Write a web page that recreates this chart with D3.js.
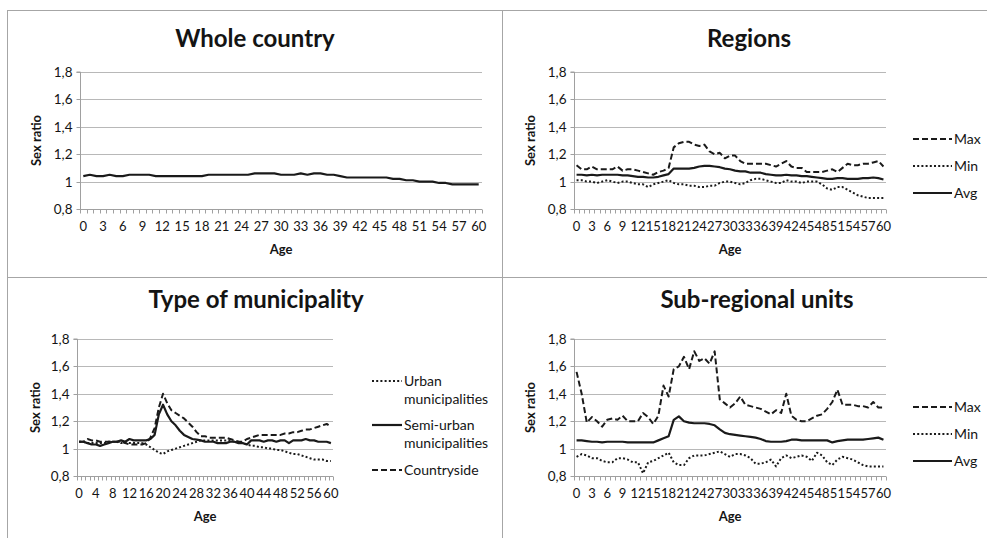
<!DOCTYPE html>
<html><head><meta charset="utf-8">
<script src="https://cdn.jsdelivr.net/npm/d3@7"></script>
<style>
html,body{margin:0;padding:0;background:#fff;}
svg{display:block;font-family:Lato,"Open Sans",sans-serif;}
</style></head>
<body>
<svg id="c" width="987" height="538"></svg>
<script>
const ages = d3.range(0, 61);
const yTicks = [0.8, 1.0, 1.2, 1.4, 1.6, 1.8];

const wholeCountry = [1.04,1.05,1.04,1.04,1.05,1.04,1.04,1.05,1.05,1.05,
1.05,1.04,1.04,1.04,1.04,1.04,1.04,1.04,1.04,1.05,
1.05,1.05,1.05,1.05,1.05,1.05,1.06,1.06,1.06,1.06,
1.05,1.05,1.05,1.06,1.05,1.06,1.06,1.05,1.05,1.04,
1.03,1.03,1.03,1.03,1.03,1.03,1.03,1.02,1.02,1.01,
1.01,1.00,1.00,1.00,0.99,0.99,0.98,0.98,0.98,0.98,0.98];

const regionsMax = [1.12,1.09,1.09,1.11,1.09,1.09,1.09,1.09,1.11,1.08,
1.09,1.09,1.08,1.07,1.06,1.05,1.07,1.08,1.10,1.25,
1.28,1.29,1.29,1.27,1.26,1.27,1.22,1.20,1.21,1.17,
1.19,1.19,1.15,1.13,1.13,1.13,1.13,1.13,1.12,1.11,
1.13,1.15,1.11,1.10,1.10,1.07,1.07,1.07,1.07,1.08,
1.09,1.07,1.10,1.13,1.12,1.12,1.13,1.13,1.14,1.15,1.11];
const regionsMin = [1.01,1.01,1.00,1.00,0.99,1.00,1.01,1.00,0.99,1.00,
1.00,0.99,0.98,0.98,0.96,0.98,0.99,1.00,1.01,0.99,
0.98,0.98,0.97,0.97,0.96,0.96,0.97,0.97,0.99,1.00,
1.00,0.99,0.98,0.99,1.01,1.02,1.02,1.01,1.00,0.99,
0.99,1.01,1.00,1.00,0.99,1.00,1.00,1.00,0.98,0.95,
0.94,0.96,0.96,0.94,0.92,0.90,0.89,0.88,0.88,0.88,0.88];
const regionsAvg = [1.05,1.05,1.045,1.05,1.045,1.05,1.05,1.05,1.05,1.045,
1.045,1.04,1.035,1.035,1.03,1.03,1.035,1.045,1.055,1.095,
1.095,1.095,1.095,1.10,1.11,1.115,1.115,1.11,1.105,1.095,
1.09,1.08,1.075,1.075,1.065,1.065,1.065,1.055,1.05,1.045,
1.045,1.05,1.045,1.045,1.04,1.04,1.035,1.03,1.025,1.02,
1.02,1.025,1.025,1.02,1.02,1.02,1.025,1.025,1.03,1.025,1.015];

const urban = [1.05,1.05,1.04,1.04,1.04,1.04,1.04,1.05,1.05,1.05,
1.04,1.04,1.04,1.04,1.04,1.04,1.03,1.01,0.99,0.97,
0.96,0.98,0.99,1.00,1.01,1.02,1.03,1.04,1.05,1.06,
1.06,1.06,1.06,1.06,1.06,1.06,1.06,1.05,1.05,1.04,
1.03,1.02,1.02,1.01,1.01,1.00,1.00,0.99,0.99,0.98,
0.97,0.96,0.96,0.95,0.94,0.93,0.92,0.92,0.92,0.91,0.91];
const semiUrban = [1.05,1.05,1.04,1.03,1.03,1.02,1.03,1.04,1.05,1.05,
1.06,1.05,1.07,1.06,1.06,1.06,1.06,1.07,1.10,1.25,
1.32,1.25,1.20,1.17,1.13,1.10,1.085,1.07,1.065,1.06,
1.05,1.05,1.05,1.04,1.04,1.04,1.05,1.05,1.04,1.04,
1.03,1.06,1.06,1.06,1.05,1.06,1.06,1.05,1.06,1.06,
1.04,1.06,1.06,1.06,1.07,1.06,1.06,1.05,1.05,1.05,1.04];
const countryside = [1.05,1.05,1.07,1.06,1.06,1.05,1.05,1.05,1.05,1.05,
1.05,1.04,1.03,1.03,1.03,1.03,1.04,1.08,1.15,1.30,
1.40,1.33,1.28,1.26,1.24,1.22,1.19,1.16,1.12,1.09,
1.09,1.08,1.08,1.08,1.08,1.08,1.07,1.06,1.05,1.05,
1.07,1.08,1.09,1.10,1.10,1.10,1.10,1.10,1.10,1.11,
1.11,1.12,1.12,1.13,1.14,1.14,1.15,1.16,1.17,1.18,1.16];

const subMax = [1.56,1.40,1.19,1.23,1.20,1.16,1.21,1.22,1.21,1.24,
1.20,1.20,1.20,1.26,1.23,1.18,1.24,1.46,1.38,1.58,
1.60,1.67,1.58,1.71,1.64,1.66,1.62,1.71,1.36,1.33,
1.30,1.33,1.38,1.32,1.31,1.30,1.29,1.27,1.25,1.28,
1.26,1.40,1.24,1.21,1.20,1.20,1.22,1.24,1.25,1.29,
1.34,1.43,1.32,1.32,1.32,1.31,1.31,1.30,1.34,1.30,1.30];
const subMin = [0.94,0.96,0.95,0.93,0.93,0.91,0.90,0.90,0.93,0.93,
0.92,0.90,0.90,0.82,0.90,0.91,0.93,0.95,0.97,0.90,
0.88,0.88,0.93,0.95,0.95,0.95,0.96,0.97,0.98,0.96,
0.94,0.96,0.96,0.95,0.93,0.89,0.89,0.90,0.92,0.87,
0.93,0.95,0.93,0.94,0.95,0.94,0.91,0.97,0.95,0.90,
0.88,0.92,0.94,0.93,0.92,0.90,0.88,0.87,0.87,0.87,0.87];
const subAvg = [1.06,1.06,1.055,1.05,1.05,1.045,1.05,1.05,1.05,1.05,
1.045,1.045,1.045,1.045,1.045,1.045,1.06,1.075,1.09,1.21,
1.235,1.20,1.19,1.185,1.185,1.185,1.18,1.17,1.14,1.115,
1.105,1.10,1.095,1.09,1.085,1.08,1.07,1.055,1.05,1.05,
1.05,1.055,1.065,1.065,1.06,1.06,1.06,1.06,1.06,1.06,
1.045,1.055,1.06,1.065,1.065,1.065,1.065,1.07,1.075,1.08,1.065];

const DASH = {solid: null, dash: "6,3", dot: "2,2.2"};
const ink = "#1a1a1a";
const txt = "#141414";
const fmt = d3.formatLocale({decimal: ",", thousands: ".", grouping: [3], currency: ["", ""]}).format(".1~f");

const panels = [
  {title: "Whole country", tx: 255, ty: 47, x0: 80, x1: 482, y0: 72, y1: 209, step: 3, ylabX: 36,
   series: [{name: "", values: wholeCountry, style: "solid"}], legend: null},
  {title: "Regions", tx: 749, ty: 47, x0: 574, x1: 886, y0: 72, y1: 209, step: 3, ylabX: 530,
   series: [{name: ["Max"], values: regionsMax, style: "dash"},
            {name: ["Min"], values: regionsMin, style: "dot"},
            {name: ["Avg"], values: regionsAvg, style: "solid"}],
   legend: {lx0: 913, lx1: 952, rows: [139, 166, 193]}},
  {title: "Type of municipality", tx: 256, ty: 308, x0: 77, x1: 333, y0: 339, y1: 476, step: 4, ylabX: 35,
   series: [{name: ["Urban", "municipalities"], values: urban, style: "dot"},
            {name: ["Semi-urban", "municipalities"], values: semiUrban, style: "solid"},
            {name: ["Countryside"], values: countryside, style: "dash"}],
   legend: {lx0: 372, lx1: 402, rows: [381, 425, 470]}},
  {title: "Sub-regional units", tx: 757, ty: 308, x0: 574, x1: 886, y0: 339, y1: 476, step: 3, ylabX: 530,
   series: [{name: ["Max"], values: subMax, style: "dash"},
            {name: ["Min"], values: subMin, style: "dot"},
            {name: ["Avg"], values: subAvg, style: "solid"}],
   legend: {lx0: 913, lx1: 952, rows: [407, 434, 461]}}
];

const svg = d3.select("#c");

// panel borders
const border = "#a6a6a6";
svg.append("line").attr("x1", 7).attr("x2", 987).attr("y1", 10.5).attr("y2", 10.5).attr("stroke", border);
svg.append("line").attr("x1", 7.5).attr("x2", 7.5).attr("y1", 10).attr("y2", 538).attr("stroke", border);
svg.append("line").attr("x1", 502.5).attr("x2", 502.5).attr("y1", 10).attr("y2", 538).attr("stroke", border);
svg.append("line").attr("x1", 7).attr("x2", 987).attr("y1", 277.5).attr("y2", 277.5).attr("stroke", border);

panels.forEach(p => {
  const g = svg.append("g");
  const x = d3.scaleBand().domain(ages).range([p.x0, p.x1]).padding(0);
  const y = d3.scaleLinear().domain([0.8, 1.8]).range([p.y1, p.y0]);

  // gridlines
  g.append("g").selectAll("line").data(yTicks.filter(t => t > 0.8)).join("line")
    .attr("x1", p.x0).attr("x2", p.x1)
    .attr("y1", d => Math.round(y(d)) + 0.5).attr("y2", d => Math.round(y(d)) + 0.5)
    .attr("stroke", "#b8b8b8").attr("stroke-width", 1);

  // y axis
  const yAxis = d3.axisLeft(y).tickValues(yTicks).tickFormat(fmt).tickSize(4).tickPadding(4);
  const ya = g.append("g").attr("transform", `translate(${p.x0 + 0.5},0)`).call(yAxis);
  ya.select(".domain").attr("stroke", "#a0a0a0").attr("d", `M-4,${p.y0}H0V${p.y1}`);
  ya.selectAll(".tick line").attr("stroke", "#a0a0a0");
  ya.selectAll(".tick").attr("transform", d => `translate(0,${Math.round(y(d)) + 0.5})`);
  ya.selectAll("text").attr("fill", txt).style("font-size", "13.5px").style("font-family", "Lato");

  // x axis
  const xa = g.append("g").attr("transform", `translate(0,${Math.round(y(0.8)) + 0.5})`);
  xa.append("line").attr("x1", p.x0).attr("x2", p.x1).attr("stroke", "#a0a0a0");
  const bounds = ages.map(a => x(a)).concat([p.x1]);
  xa.selectAll("line.tk").data(bounds).join("line").attr("class", "tk")
    .attr("x1", d => Math.round(d) + 0.5).attr("x2", d => Math.round(d) + 0.5)
    .attr("y1", 0).attr("y2", 4).attr("stroke", "#a0a0a0");
  xa.selectAll("text").data(ages.filter(a => a % p.step === 0)).join("text")
    .attr("x", d => x(d) + x.bandwidth() / 2).attr("y", 21)
    .attr("text-anchor", "middle").attr("fill", txt).style("font-size", "13px")
    .text(d => d);

  // axis titles
  g.append("text").attr("x", (p.x0 + p.x1) / 2).attr("y", p.y1 + 45)
    .attr("text-anchor", "middle").attr("font-weight", "bold").attr("fill", txt)
    .style("font-size", "13px").text("Age");
  g.append("text").attr("transform", `translate(${p.ylabX + 4.5},${(p.y0 + p.y1) / 2}) rotate(-90)`)
    .attr("text-anchor", "middle").attr("font-weight", "bold").attr("fill", txt)
    .style("font-size", "13px").text("Sex ratio");

  // title
  g.append("text").attr("x", p.tx).attr("y", p.ty).attr("text-anchor", "middle")
    .attr("font-weight", "bold").attr("fill", txt).style("font-size", "24px").text(p.title);

  // lines
  const line = d3.line().x((d, i) => x(ages[i]) + x.bandwidth() / 2).y(d => y(d));
  p.series.forEach(s => {
    g.append("path").attr("d", line(s.values)).attr("fill", "none")
      .attr("stroke", ink).attr("stroke-width", s.style === "solid" ? 2.2 : 2)
      .attr("stroke-dasharray", DASH[s.style]).attr("stroke-linejoin", "round");
  });

  // legend
  if (p.legend) {
    p.series.forEach((s, i) => {
      const ly = p.legend.rows[i];
      g.append("line").attr("x1", p.legend.lx0).attr("x2", p.legend.lx1)
        .attr("y1", ly).attr("y2", ly).attr("stroke", ink)
        .attr("stroke-width", s.style === "solid" ? 2.2 : 2)
        .attr("stroke-dasharray", DASH[s.style]);
      s.name.forEach((nm, k) => {
        g.append("text").attr("x", p.legend.lx1 + 2).attr("y", ly + 5 + k * 17.5)
          .attr("fill", txt).style("font-size", "14px").text(nm);
      });
    });
  }
});
</script>
</body></html>
